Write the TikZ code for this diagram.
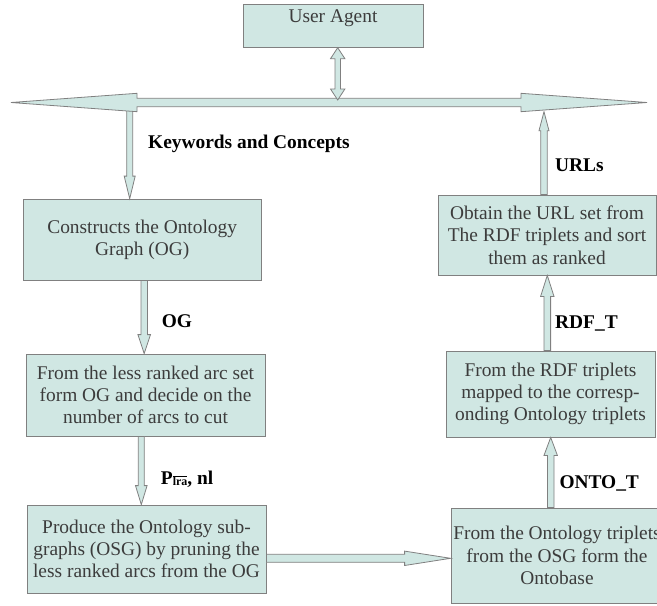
\documentclass[tikz,border=0pt]{standalone}
\usepackage{fontspec}
\setmainfont{Liberation Serif}
\usetikzlibrary{calc}
\definecolor{boxfill}{RGB}{208,231,227}
\definecolor{edgegray}{RGB}{128,128,128}
\definecolor{txtgray}{RGB}{60,60,60}
\tikzset{
 box/.style={draw=edgegray, fill=boxfill, line width=0.8pt, inner sep=0pt, text=txtgray, align=center, font=\fontsize{19.4}{22.3}\selectfont},
 arr/.style={draw=edgegray, fill=boxfill, line width=0.8pt, line join=miter},
 lbl/.style={anchor=base west, inner sep=0pt, font=\fontsize{19.4}{22.3}\selectfont\bfseries, text=black}
}
% single block arrow: #1 start, #2 tip, #3 half shaft, #4 half head, #5 head length
\newcommand\blockarrow[5]{%
 \coordinate (hb) at ($(#2)!#5!(#1)$);
 \filldraw[arr] ($(#1)!#3!90:(#2)$) -- ($(hb)!#3!90:(#2)$) -- ($(hb)!#4!90:(#2)$) -- (#2)
  -- ($(hb)!#4!-90:(#2)$) -- ($(hb)!#3!-90:(#2)$) -- ($(#1)!#3!-90:(#2)$) -- cycle;
}
% double block arrow: #1 tip A, #2 tip B, #3 half shaft, #4 half head, #5 head A length, #6 head B length
\newcommand\dblockarrow[6]{%
 \coordinate (ha) at ($(#1)!#5!(#2)$);
 \coordinate (hb) at ($(#2)!#6!(#1)$);
 \filldraw[arr] (#1) -- ($(ha)!#4!90:(#2)$) -- ($(ha)!#3!90:(#2)$) -- ($(hb)!#3!90:(#2)$)
  -- ($(hb)!#4!90:(#2)$) -- (#2) -- ($(hb)!#4!-90:(#2)$) -- ($(hb)!#3!-90:(#2)$)
  -- ($(ha)!#3!-90:(#2)$) -- ($(ha)!#4!-90:(#2)$) -- cycle;
}
\begin{document}
\begin{tikzpicture}[x=1pt,y=-1pt]
\useasboundingbox (0,0) rectangle (657,606);
\clip (0,0) rectangle (657,606);

\node[box, minimum width=180pt, text height=18pt, text depth=24.6pt] (ua) at (333,26) {User Agent};
\node[box, minimum width=238pt, minimum height=81pt] (c1) at (142.2,239.6) {Constructs the Ontology\\Graph (OG)};
\node[box, minimum width=239pt, minimum height=82pt] (c2) at (145.5,395) {From the less ranked arc set\\form OG and decide on the\\number of arcs to cut};
\node[box, minimum width=239pt, minimum height=88pt] (c3) at (146.5,549) {Produce the Ontology sub-\\graphs (OSG) by pruning the\\less ranked arcs from the OG};
\node[box, minimum width=218pt, minimum height=80pt] (c4) at (547,235) {Obtain the URL set from\\The RDF triplets and sort\\them as ranked};
\node[box, minimum width=209pt, minimum height=86pt] (c5) at (550.5,394) {From the RDF triplets\\mapped to the corresp-\\onding Ontology triplets};
\node[box, minimum width=212pt, minimum height=95pt] (c6) at (557,555.5) {From the Ontology triplets\\from the OSG form the\\Ontobase};

\coordinate (busL) at (11,102.5);
\coordinate (busR) at (647,102.5);
\coordinate (kw1) at (129.7,104);
\coordinate (kw2) at (kw1 |- c1.north);
\coordinate (url2) at (544,111.7);
\coordinate (url1) at (url2 |- c4.north);
\coordinate (ua1) at ($(ua.south)+(4.7,0)$);
\coordinate (uab) at (337.7,100);
\coordinate (og1) at ($(c1.south)+(2,0)$);
\coordinate (og2) at (og1 |- c2.north);
\coordinate (p1) at ($(c2.south)+(-4.2,0)$);
\coordinate (p2) at (p1 |- c3.north);
\coordinate (h1) at ($(c3.east)+(0,9.3)$);
\coordinate (h2) at (h1 -| c6.west);
\coordinate (o1) at ($(c6.north)+(-6.3,0)$);
\coordinate (o2) at (o1 |- c5.south);
\coordinate (r1) at ($(c5.north)+(-3.2,0)$);
\coordinate (r2) at (r1 |- c4.south);

\blockarrow{kw1}{kw2}{3pt}{5.5pt}{22.6pt}
\blockarrow{url1}{url2}{3.2pt}{5pt}{19pt}
\dblockarrow{busL}{busR}{4.2pt}{9.2pt}{126pt}{126pt}
\dblockarrow{ua1}{uab}{2.7pt}{7.2pt}{11pt}{11pt}
\blockarrow{og1}{og2}{3.2pt}{6.3pt}{19pt}
\blockarrow{p1}{p2}{3pt}{5.8pt}{19pt}
\blockarrow{h1}{h2}{4pt}{7.2pt}{46pt}
\blockarrow{o1}{o2}{3.3pt}{6.7pt}{18pt}
\blockarrow{r1}{r2}{3.3pt}{6.7pt}{21pt}

\node[lbl] (kwl) at (148,148.4) {Keywords and Concepts};
\node[lbl] (ogl) at (161.7,327.4) {OG};
\node[lbl] (pl) at (160.7,484.4) {P\raisebox{-1.5pt}{\fontsize{12}{12}\selectfont$\overline{\hbox{lra}}$}, nl};
\node[lbl] (urll) at (555,171.4) {URLs};
\node[lbl] (rdfl) at (555,328) {RDF\_T};
\node[lbl] (ontol) at (559.3,488) {ONTO\_T};
\end{tikzpicture}
\end{document}
